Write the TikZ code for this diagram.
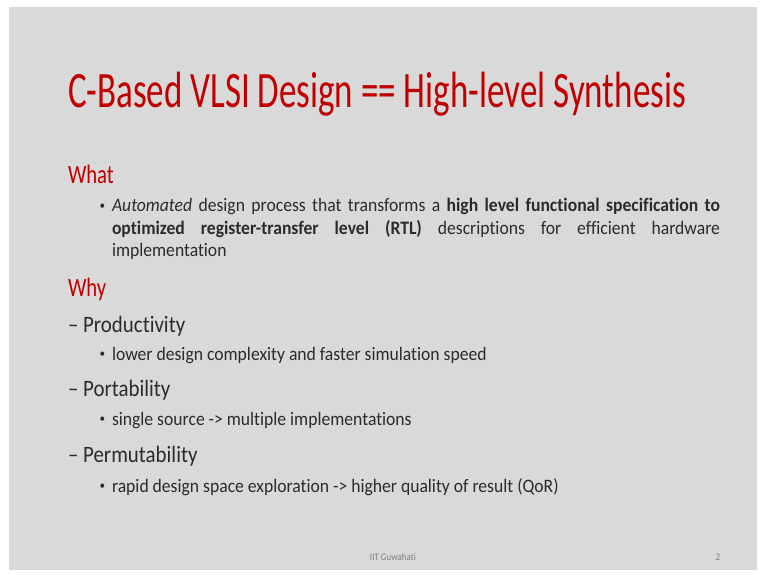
\documentclass[tikz,border=0pt]{standalone}
\usepackage{fontspec}
\setmainfont[Ligatures=NoCommon]{Carlito}
\newfontfamily\titlefont[FakeStretch=0.686,Ligatures=NoCommon]{Carlito}
\newfontfamily\headfont[FakeStretch=0.78,Ligatures=NoCommon]{Carlito}
\newfontfamily\levelonefont[FakeStretch=0.89,Ligatures=NoCommon]{Carlito}
\newfontfamily\leveltwofont[FakeStretch=0.927,Ligatures=NoCommon]{Carlito}
\newfontfamily\footfont[FakeStretch=0.90,Ligatures=NoCommon]{Carlito}
\definecolor{slidebg}{HTML}{D9D9D9}
\definecolor{titlered}{HTML}{C00000}
\definecolor{bodytext}{HTML}{2B2B2B}
\definecolor{foottext}{HTML}{7F7F7F}
\begin{document}
\begin{tikzpicture}[x=1pt,y=-1pt,
  every node/.style={inner sep=0pt,outer sep=0pt,anchor=base west,text=bodytext},
  title/.style={font=\titlefont\fontsize{51}{60}\selectfont,text=titlered},
  heading/.style={font=\headfont\fontsize{26.5}{30}\selectfont,text=titlered},
  level1/.style={font=\levelonefont\fontsize{23.5}{28}\selectfont},
  level2/.style={font=\leveltwofont\fontsize{19}{22.5}\selectfont},
  bullet/.style={font=\leveltwofont\fontsize{12}{14}\selectfont},
  footer/.style={font=\footfont\fontsize{10}{12}\selectfont,text=foottext,anchor=base}]
  % page and slide area
  \fill[white] (0,0) rectangle (764,575);
  \useasboundingbox (0,0) rectangle (764,575);
  \fill[slidebg] (9,7) rectangle (757,570);

  \node[title] (title) at (68,108) {C-Based VLSI Design == High-level Synthesis};

  % What
  \node[heading] (what) at (68,184) {What};
  \node[bullet] (b1) at (99.5,209.5) {•};
  \node[level2] (whatline1) at (112,212)
    {\makebox[608pt][s]{\emph{Automated} design process that transforms a \textbf{high level functional specification to}}};
  \node[level2] (whatline2) at (112,235)
    {\makebox[608pt][s]{\textbf{optimized register-transfer level (RTL)} descriptions for efficient hardware}};
  \node[level2] (whatline3) at (112,257) {implementation};

  % Why
  \node[heading] (why) at (68,296) {Why};

  \node[level1] (prod) at (68,332) {– Productivity};
  \node[bullet] (b2) at (99.5,357.5) {•};
  \node[level2] (prodtext) at (112,360) {lower design complexity and faster simulation speed};

  \node[level1] (port) at (68,396) {– Portability};
  \node[bullet] (b3) at (99.5,422.5) {•};
  \node[level2] (porttext) at (112,425) {single source -> multiple implementations};

  \node[level1] (perm) at (68,462) {– Permutability};
  \node[bullet] (b4) at (99.5,489.5) {•};
  \node[level2] (permtext) at (112,492) {rapid design space exploration -> higher quality of result (QoR)};

  \node[footer] (inst) at (393,560) {IIT Guwahati};
  \node[footer] (pnum) at (718,560) {2};
\end{tikzpicture}
\end{document}
